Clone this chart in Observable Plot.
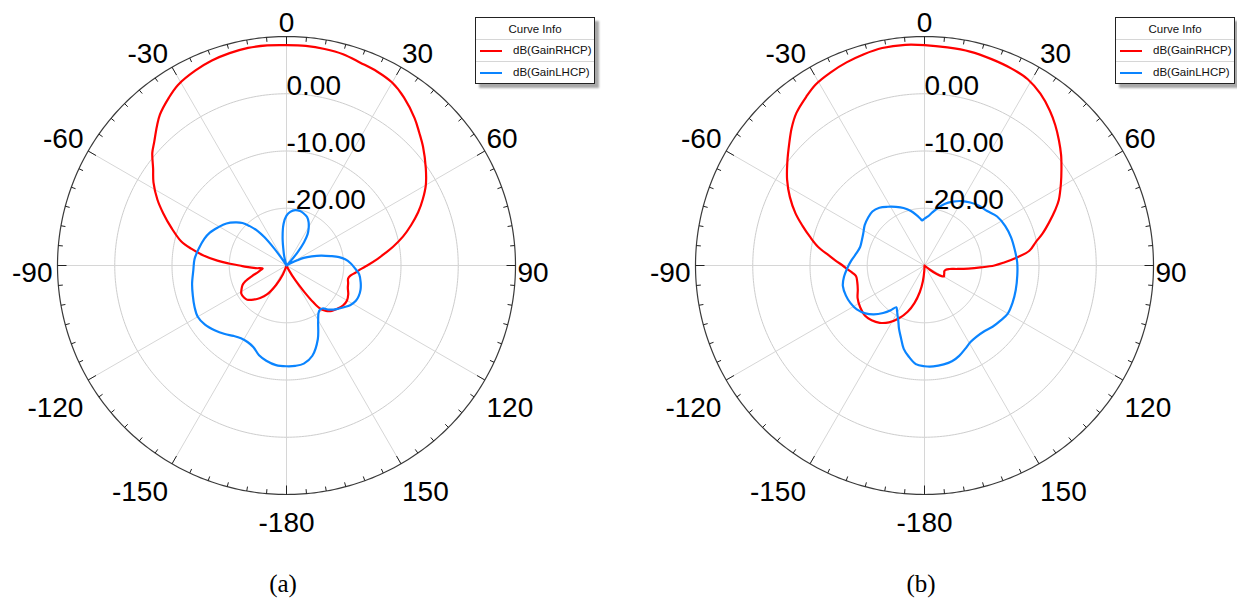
<!DOCTYPE html>
<html>
<head>
<meta charset="utf-8">
<script src="https://cdn.jsdelivr.net/npm/d3@7"></script>
<script src="https://cdn.jsdelivr.net/npm/@observablehq/plot@0.6"></script>
<style>
  html, body { margin: 0; padding: 0; background: #fff; }
  body { width: 1237px; height: 604px; position: relative; overflow: hidden;
         font-family: "Liberation Sans", Arial, sans-serif; }
  .panel { position: absolute; top: 0; }
  .panel svg { overflow: visible; }
  .legend { position: absolute; width: 118px; background: #fff; border: 1px solid #222;
            box-shadow: 4px 4px 2px #a8a8a8; font-size: 11.5px; color: #111; }
  .legend .head { height: 21px; line-height: 22px; text-align: center; border-bottom: 1px solid #d6d6d6; }
  .legend .row { height: 21px; line-height: 21px; position: relative; padding-left: 37px; }
  .legend .row + .row { border-top: 1px solid #d6d6d6; }
  .legend .sw { position: absolute; left: 4px; top: 10px; width: 22px; height: 2px; }
  .caption { position: absolute; top: 570px; width: 80px; text-align: center;
             font-family: "Liberation Serif", "DejaVu Serif", serif; font-size: 25px; line-height: 28px; }
</style>
</head>
<body>
<script>
// Radial axis: dB from the floor (centre) to the ceiling (outer circle)
const dbFloor = -30;
const dbCeil = 10;
const ringLevels = [-20, -10, 0];
const angleLabels = [0, 30, 60, 90, 120, 150, -180, -150, -120, -90, -60, -30];

const seriesNames = ["dB(GainRHCP)", "dB(GainLHCP)"];
const seriesColors = ["#ff0000", "#0a84ff"];

// (a) RHCP gain, angle in degrees, value in dB
const rhcpA_deg = [-180,-170,-163,-158,-152,-146,-141,-136,-131,-127,-122,-118,-114,-111,-107,-103,-99,-97,-95,-92,
  -90,-88,-86,-83,-80,-77,-72,-67,-63,-58,-54,-50,-47,-43,-40,-35,-31,-25,-20,-15,
  -10,-5,0,5,10,15,20,25,30,35,41,45,49,55,60,64,68,72,76,80,
  83,86,90,93,96,99,102,106,110,115,120,125,130,135,139,142,144,146,149,153,157,170];
const rhcpA_db = [-35,-35,-31,-28.3,-26.2,-23.9,-22.7,-21.7,-20.9,-20.7,-20.7,-21.1,-21.6,-22.3,-23.7,-24.9,-25.6,-25.8,-24.6,-23.0,
  -21.8,-19.9,-17.9,-15.3,-13.1,-11.1,-8.9,-6.6,-4.7,-2.6,-1.2,0.6,1.6,3.2,4.4,5.8,6.8,7.6,8.1,8.4,
  8.6,8.6,8.5,8.5,8.4,8.2,7.7,7.4,6.9,5.8,4.1,2.8,1.6,-0.3,-1.9,-3.5,-5.2,-7.1,-9.0,-11.1,
  -12.7,-14.1,-15.9,-17.1,-17.9,-18.7,-19.0,-18.8,-18.6,-18.1,-17.8,-17.9,-18.3,-18.8,-19.5,-20.4,-22.1,-24.4,-26.9,-29.1,-35,-35];

// (a) LHCP gain
const lhcpA_deg = [-180,-174,-168,-163,-158,-153,-148,-143,-138,-132,-126,-120,-114,-108,-101,-93,-86,-79,-72,-67,
  -61,-55,-50,-46,-43,-40,-38,-36,-34,-32,-20,-16,-14,-12,-8,-4,0,4,9,14,
  18,23,27,31,34,37,40,43,46,59,62,64,66,70,74,78,81,84,88,92,
  97,103,108,113,117,122,126,131,136,140,143,146,151,157,164,170,175];
const lhcpA_db = [-12.4,-12.5,-13.0,-13.6,-14.6,-15.0,-15.0,-14.6,-13.9,-13.1,-12.4,-12.1,-12.4,-12.8,-13.2,-13.7,-13.9,-14.4,-14.9,-15.4,
  -16.3,-17.2,-18.3,-19.3,-20.6,-22.1,-23.7,-26.2,-28.6,-35,-35,-29.5,-28.4,-27.6,-25.1,-22.7,-21.3,-20.6,-20.2,-20.2,
  -20.4,-20.8,-21.5,-22.5,-23.4,-24.9,-27.0,-29.1,-35,-35,-29.1,-27.9,-26.7,-25.3,-23.7,-22.1,-20.7,-19.7,-18.8,-18.1,
  -17.2,-16.7,-16.4,-16.3,-16.4,-16.9,-17.6,-18.4,-19.3,-20.2,-20.3,-20.0,-18.6,-16.0,-13.6,-12.6,-12.4];

// (b) RHCP gain
const rhcpB_deg = [-180,-178,-174,-170,-165,-160,-154,-148,-142,-136,-130,-123,-116,-110,-104,-99,-96,-93,-90,-87,
  -84,-80,-76,-72,-68,-63,-58,-53,-48,-44,-40,-35,-31,-26,-21,-16,-11,-5,0,6,
  12,18,24,29,34,39,43,47,51,55,59,64,67,71,75,78,82,85,88,90,
  92,94,96,98,101,106,111,116,119,122,125,128,131,160];
const rhcpB_db = [-35,-29.1,-27.2,-25.3,-23.2,-21.4,-19.7,-18.3,-17.3,-16.7,-16.4,-16.6,-17.0,-17.6,-17.9,-17.9,-17.4,-16.6,-15.7,-14.5,
  -13.2,-11.1,-9.4,-7.6,-5.7,-3.6,-1.7,0.0,1.8,3.4,4.8,6.0,6.9,7.5,8.0,8.4,8.7,8.7,8.5,8.3,
  8.2,7.9,7.6,7.2,6.2,4.8,3.5,2.1,0.7,-0.8,-2.2,-3.9,-5.2,-7.0,-8.7,-10.1,-11.5,-13.8,-16.2,-17.8,
  -20.2,-22.3,-24.2,-25.6,-26.2,-26.4,-26.3,-26.2,-26.1,-26.5,-27.4,-28.8,-35,-35];

// (b) LHCP gain
const lhcpB_deg = [-180,-175,-170,-166,-162,-158,-155,-152,-149,-146,-143,-139,-134,-129,-123,-117,-111,-104,-98,-92,
  -86,-80,-74,-68,-62,-56,-50,-44,-38,-32,-26,-20,-14,-9,-5,-3,0,4,8,13,
  18,24,30,36,42,49,56,64,72,80,88,96,105,113,120,126,132,138,144,149,
  154,159,164,169,175];
const lhcpB_db = [-12.4,-12.7,-13.9,-15.0,-16.7,-18.1,-19.2,-20.0,-20.7,-21.2,-20.2,-19.0,-17.7,-16.7,-15.9,-15.5,-15.3,-15.3,-15.8,-16.5,
  -17.2,-17.9,-18.3,-18.2,-17.9,-17.4,-17.1,-16.9,-17.2,-17.9,-18.6,-19.3,-20.2,-21.1,-21.8,-22.1,-21.8,-21.4,-20.7,-19.7,
  -18.7,-17.8,-17.0,-16.4,-15.9,-15.5,-14.7,-14.3,-14.1,-14.0,-13.8,-13.7,-13.5,-13.3,-13.2,-13.6,-14.0,-14.5,-14.6,-14.4,
  -13.8,-13.1,-12.6,-12.4,-12.3];

const span = dbCeil - dbFloor;
const pxPerUnit = 458 / (2 * span);
const rad = d => d * Math.PI / 180;
const radial = db => Math.max(0, db - dbFloor);          // values under the floor collapse to the centre
const cx = (deg, u) => u * Math.sin(rad(deg));            // 0° at top, clockwise positive
const cy = (deg, u) => u * Math.cos(rad(deg));
const sgn = v => (Math.abs(v) < 1e-6 ? 0 : Math.sign(v));

const fontFamily = "Liberation Sans, Arial, sans-serif";

// angle labels sit just outside the rim: anchored on the side facing the circle
const labelGap = 231;      // px from centre to the label's nearest edge
const labelHalfBox = 19;   // half height of the label box, px
const labelDrop = 7.6;     // labels sit slightly low, px
const labelSide = a => { const s = sgn(Math.sin(rad(a))); return s === 0 ? "middle" : s > 0 ? "start" : "end"; };
const labelX = a => cx(a, labelGap / pxPerUnit);
const labelY = a => (labelGap * Math.cos(rad(a)) + sgn(Math.cos(rad(a))) * labelHalfBox - labelDrop) / pxPerUnit;

function angleLabelMark(anchor, dx) {
  return Plot.text(angleLabels.filter(a => labelSide(a) === anchor), {
    x: labelX, y: labelY, text: a => String(a),
    textAnchor: anchor, dx, fontSize: 28, fontFamily, fill: "#000"
  });
}

function polarChart(curves) {
  const rows = curves.flatMap(c => c.deg.map((d, i) => ({name: c.name, deg: d, db: c.db[i]})));
  const circleAngles = d3.range(0, 361, 1);
  const ringRows = ringLevels.flatMap(level => circleAngles.map(a => ({level, a})));
  const spokes = d3.range(0, 360, 30);
  const ticks = d3.range(0, 360, 5);
  const tickLen = a => (a % 30 === 0 ? 9 : 4.5) / pxPerUnit;

  return Plot.plot({
    width: 580,
    height: 545,
    marginLeft: 57,
    marginRight: 65,
    marginTop: 36,
    marginBottom: 51,
    x: {domain: [-span, span], axis: null},
    y: {domain: [-span, span], axis: null},
    color: {domain: seriesNames, range: seriesColors},
    style: {fontFamily, background: "transparent", overflow: "visible"},
    marks: [
      // concentric dB rings
      Plot.line(ringRows, {
        x: r => cx(r.a, radial(r.level)), y: r => cy(r.a, radial(r.level)),
        z: "level", stroke: "#cdcdcd", strokeWidth: 1
      }),
      // angular spokes every 30°
      Plot.link(spokes, {
        x1: 0, y1: 0, x2: a => cx(a, span), y2: a => cy(a, span),
        stroke: "#d6d6d6", strokeWidth: 1
      }),
      // outer circle
      Plot.line(circleAngles, {
        x: a => cx(a, span), y: a => cy(a, span), stroke: "#3a3a3a", strokeWidth: 1.2
      }),
      // inward ticks every 5°, longer every 30°
      Plot.link(ticks, {
        x1: a => cx(a, span), y1: a => cy(a, span),
        x2: a => cx(a, span - tickLen(a)), y2: a => cy(a, span - tickLen(a)),
        stroke: "#222", strokeWidth: 1
      }),
      // gain curves
      Plot.line(rows, {
        x: r => cx(r.deg, radial(r.db)), y: r => cy(r.deg, radial(r.db)),
        stroke: "name", strokeWidth: 2.2, curve: "catmull-rom-closed"
      }),
      // angle labels
      angleLabelMark("middle", 0),
      angleLabelMark("start", 0),
      angleLabelMark("end", -3),
      // ring value labels
      Plot.text(ringLevels, {
        x: 0, y: l => radial(l), text: l => l.toFixed(2),
        textAnchor: "start", lineAnchor: "bottom",
        fontSize: 28, fontFamily, fill: "#000", dy: 1
      })
    ]
  });
}

function addPanel(left, legendLeft, caption, curves) {
  const panel = document.createElement("div");
  panel.className = "panel";
  panel.style.left = left + "px";
  panel.appendChild(polarChart(curves));
  document.body.appendChild(panel);

  const legend = document.createElement("div");
  legend.className = "legend";
  legend.style.left = legendLeft + "px";
  legend.style.top = "17px";
  const head = document.createElement("div");
  head.className = "head";
  head.textContent = "Curve Info";
  legend.appendChild(head);
  seriesNames.forEach((name, i) => {
    const row = document.createElement("div");
    row.className = "row";
    const sw = document.createElement("span");
    sw.className = "sw";
    sw.style.background = seriesColors[i];
    row.appendChild(sw);
    row.appendChild(document.createTextNode(name));
    legend.appendChild(row);
  });
  document.body.appendChild(legend);

  const cap = document.createElement("div");
  cap.className = "caption";
  cap.style.left = (left + 286 - 40 - 3) + "px";
  cap.textContent = caption;
  document.body.appendChild(cap);
}

addPanel(0, 475, "(a)", [
  {name: seriesNames[0], deg: rhcpA_deg, db: rhcpA_db},
  {name: seriesNames[1], deg: lhcpA_deg, db: lhcpA_db}
]);
addPanel(638, 1115, "(b)", [
  {name: seriesNames[0], deg: rhcpB_deg, db: rhcpB_db},
  {name: seriesNames[1], deg: lhcpB_deg, db: lhcpB_db}
]);
</script>
</body>
</html>
